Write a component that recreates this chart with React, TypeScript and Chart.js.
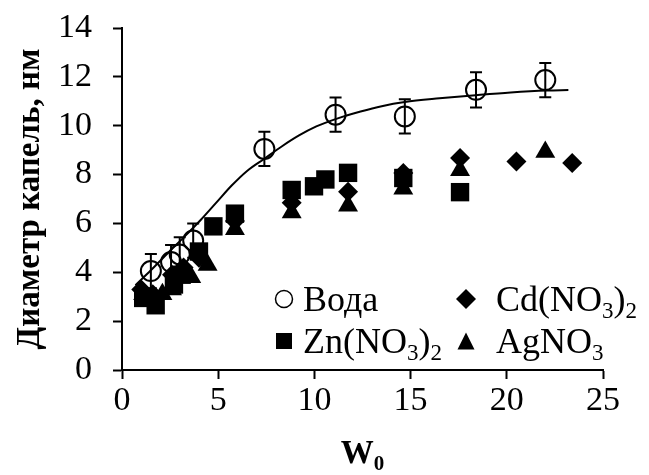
import React, { useEffect, useRef } from 'react';
import { Chart, registerables } from 'chart.js';

Chart.register(...registerables);

// ---------- data ----------
const xTicks = [0, 5, 10, 15, 20, 25];
const yTicks = [0, 2, 4, 6, 8, 10, 12, 14];

const waterX = [1.5, 2.55, 3.0, 3.7, 7.4, 11.1, 14.7, 18.4, 22.0];
const waterY = [4.05, 4.42, 4.73, 5.3, 9.05, 10.45, 10.38, 11.47, 11.87];
const waterErr = [0.7, 0.7, 0.7, 0.7, 0.7, 0.7, 0.7, 0.72, 0.7];

const fitX = [0.7, 1.5, 2.4, 3.3, 4.1, 4.9, 5.7, 6.5, 7.4, 8.3, 9.2, 10.1, 11.1, 12.4, 13.5, 14.7, 16.5, 18.4, 20.2, 22.1, 23.2];
const fitY = [3.47, 4.08, 4.8, 5.5, 6.15, 6.85, 7.55, 8.15, 8.65, 9.15, 9.6, 9.97, 10.27, 10.58, 10.8, 10.97, 11.12, 11.25, 11.36, 11.44, 11.46];

const znX = [1.1, 1.75, 2.7, 3.1, 4.0, 4.75, 5.87, 8.82, 9.98, 10.57, 11.75, 14.62, 17.57];
const znY = [2.95, 2.65, 3.5, 3.9, 4.85, 5.88, 6.4, 7.37, 7.52, 7.8, 8.07, 7.86, 7.28];

const cdX = [1.0, 1.6, 2.6, 3.2, 4.0, 5.87, 8.82, 11.75, 14.62, 17.57, 20.5, 23.4];
const cdY = [3.3, 3.1, 3.9, 4.2, 4.6, 6.1, 6.85, 7.3, 8.06, 8.68, 8.54, 8.47];

const agX = [1.1, 2.1, 2.6, 3.0, 3.6, 4.45, 5.87, 8.82, 11.75, 14.62, 17.57, 22.0];
const agY = [3.1, 3.1, 3.3, 4.0, 3.8, 4.3, 5.76, 6.45, 6.72, 7.42, 8.18, 8.92];

type Part = { t: string; sub?: boolean };
const legendWater: Part[] = [{ t: 'Вода' }];
const legendCd: Part[] = [{ t: 'Cd(NO' }, { t: '3', sub: true }, { t: ')' }, { t: '2', sub: true }];
const legendZn: Part[] = [{ t: 'Zn(NO' }, { t: '3', sub: true }, { t: ')' }, { t: '2', sub: true }];
const legendAg: Part[] = [{ t: 'AgNO' }, { t: '3', sub: true }];
const xTitle: Part[] = [{ t: 'W' }, { t: '0', sub: true }];
const yTitle = 'Диаметр капель, нм';

// ---------- helpers ----------
const FONT = "'Liberation Serif', 'Times New Roman', serif";
const TICK_SIZE = 34;
const LEGEND_SIZE = 36;
const TITLE_SIZE = 33;

function pts(xs: number[], ys: number[]) {
  return xs.map((x, i) => ({ x, y: ys[i] }));
}

function drawParts(ctx: CanvasRenderingContext2D, parts: Part[], x: number, y: number, size: number, bold: boolean, align: 'left' | 'center') {
  const w = bold ? 'bold ' : '';
  const subSize = Math.round(size * 0.65);
  let total = 0;
  for (const p of parts) {
    ctx.font = `${w}${p.sub ? subSize : size}px ${FONT}`;
    total += ctx.measureText(p.t).width;
  }
  let cx = align === 'center' ? x - total / 2 : x;
  ctx.textAlign = 'left';
  ctx.textBaseline = 'alphabetic';
  for (const p of parts) {
    ctx.font = `${w}${p.sub ? subSize : size}px ${FONT}`;
    ctx.fillText(p.t, cx, p.sub ? y + size * 0.2 : y);
    cx += ctx.measureText(p.t).width;
  }
}

function drawMarker(ctx: CanvasRenderingContext2D, kind: string, x: number, y: number, s: number) {
  ctx.save();
  ctx.fillStyle = '#000';
  ctx.strokeStyle = '#000';
  ctx.lineWidth = 1.5;
  ctx.beginPath();
  if (kind === 'circle') {
    ctx.arc(x, y, s * 0.5, 0, Math.PI * 2);
    ctx.stroke();
  } else if (kind === 'rect') {
    ctx.rect(x - s / 2, y - s / 2, s, s);
    ctx.fill();
  } else if (kind === 'diamond') {
    ctx.moveTo(x, y - s / 2);
    ctx.lineTo(x + s / 2, y);
    ctx.lineTo(x, y + s / 2);
    ctx.lineTo(x - s / 2, y);
    ctx.closePath();
    ctx.fill();
  } else if (kind === 'triangle') {
    ctx.moveTo(x, y - s / 2);
    ctx.lineTo(x + s / 2, y + s / 2);
    ctx.lineTo(x - s / 2, y + s / 2);
    ctx.closePath();
    ctx.fill();
  }
  ctx.restore();
}

const errorBarPlugin = {
  id: 'errorBars',
  beforeDatasetsDraw(chart: any) {
    const { ctx, scales } = chart;
    ctx.save();
    ctx.strokeStyle = '#000';
    ctx.lineWidth = 2;
    waterX.forEach((xv, i) => {
      const px = scales.x.getPixelForValue(xv);
      const top = scales.y.getPixelForValue(waterY[i] + waterErr[i]);
      const bot = scales.y.getPixelForValue(waterY[i] - waterErr[i]);
      ctx.beginPath();
      ctx.moveTo(px, top);
      ctx.lineTo(px, bot);
      ctx.moveTo(px - 6, top);
      ctx.lineTo(px + 6, top);
      ctx.moveTo(px - 6, bot);
      ctx.lineTo(px + 6, bot);
      ctx.stroke();
    });
    ctx.restore();
  },
};

const annotationPlugin = {
  id: 'customText',
  afterDraw(chart: any) {
    const { ctx, chartArea } = chart;
    ctx.save();
    ctx.fillStyle = '#000';
    // legend
    const r1 = 299;
    const r2 = 341;
    const c1 = 284;
    const c2 = 466;
    drawMarker(ctx, 'circle', c1, r1, 17);
    drawMarker(ctx, 'diamond', c2, r1, 20);
    drawMarker(ctx, 'rect', c1, r2, 16);
    drawMarker(ctx, 'triangle', c2, r2, 17);
    ctx.fillStyle = '#000';
    drawParts(ctx, legendWater, c1 + 19, r1 + 12, LEGEND_SIZE, false, 'left');
    drawParts(ctx, legendCd, c2 + 30, r1 + 12, LEGEND_SIZE, false, 'left');
    drawParts(ctx, legendZn, c1 + 19, r2 + 12, LEGEND_SIZE, false, 'left');
    drawParts(ctx, legendAg, c2 + 30, r2 + 12, LEGEND_SIZE, false, 'left');
    // x title
    const cx = (chartArea.left + chartArea.right) / 2;
    drawParts(ctx, xTitle, cx, 463, TITLE_SIZE, true, 'center');
    // y title
    ctx.translate(30, (chartArea.top + chartArea.bottom) / 2);
    ctx.rotate(-Math.PI / 2);
    ctx.font = `bold ${TITLE_SIZE}px ${FONT}`;
    ctx.textAlign = 'center';
    ctx.textBaseline = 'middle';
    ctx.fillText(yTitle, 0, 0);
    ctx.restore();
  },
};

export default function App() {
  const ref = useRef<HTMLCanvasElement | null>(null);

  useEffect(() => {
    if (!ref.current) return;
    const chart = new Chart(ref.current, {
      type: 'scatter',
      data: {
        datasets: [
          {
            label: 'Вода',
            data: pts(waterX, waterY),
            pointStyle: 'circle',
            pointRadius: 10,
            pointHoverRadius: 10,
            pointBorderWidth: 2,
            borderColor: '#000',
            backgroundColor: 'rgba(0,0,0,0)',
            showLine: false,
          },
          {
            label: 'fit',
            type: 'line',
            data: pts(fitX, fitY),
            pointRadius: 0,
            borderColor: '#000',
            borderWidth: 2,
            cubicInterpolationMode: 'monotone',
            fill: false,
          },
          {
            label: 'Zn(NO3)2',
            data: pts(znX, znY),
            pointStyle: 'rect',
            pointRadius: 13,
            pointHoverRadius: 13,
            borderWidth: 0,
            borderColor: '#000',
            backgroundColor: '#000',
          },
          {
            label: 'Cd(NO3)2',
            data: pts(cdX, cdY),
            pointStyle: 'rectRot',
            pointRadius: 10,
            pointHoverRadius: 10,
            borderWidth: 0,
            borderColor: '#000',
            backgroundColor: '#000',
          },
          {
            label: 'AgNO3',
            data: pts(agX, agY),
            pointStyle: 'triangle',
            pointRadius: 11.5,
            pointHoverRadius: 11.5,
            borderWidth: 0,
            borderColor: '#000',
            backgroundColor: '#000',
          },
        ],
      },
      options: {
        responsive: false,
        animation: false,
        events: [],
        layout: { padding: { left: 0, right: 46, top: 28, bottom: 0 } },
        plugins: {
          legend: { display: false },
          tooltip: { enabled: false },
          title: { display: false },
        },
        scales: {
          x: {
            type: 'linear',
            min: 0,
            max: 25,
            afterFit: (s: any) => {
              s.height = 105;
              s.paddingLeft = 0;
              s.paddingRight = 0;
            },
            afterBuildTicks: (s: any) => {
              s.ticks = xTicks.map((v) => ({ value: v }));
            },
            border: { display: true, color: '#000', width: 2 },
            grid: { display: true, drawOnChartArea: false, drawTicks: true, tickLength: 9, color: '#000', tickWidth: 2 },
            ticks: { color: '#000', font: { family: FONT, size: TICK_SIZE }, padding: 2, maxRotation: 0 },
          },
          y: {
            type: 'linear',
            min: 0,
            max: 14,
            afterFit: (s: any) => {
              s.width = 122;
              s.paddingTop = 0;
              s.paddingBottom = 0;
            },
            afterBuildTicks: (s: any) => {
              s.ticks = yTicks.map((v) => ({ value: v }));
            },
            border: { display: true, color: '#000', width: 2 },
            grid: { display: true, drawOnChartArea: false, drawTicks: true, tickLength: 9, color: '#000', tickWidth: 2 },
            ticks: { color: '#000', font: { family: FONT, size: TICK_SIZE }, padding: 21 },
          },
        },
      },
      plugins: [errorBarPlugin, annotationPlugin],
    } as any);
    return () => chart.destroy();
  }, []);

  return (
    <div style={{ position: 'fixed', left: 0, top: 0, width: 649, height: 475, background: '#fff' }}>
      <canvas ref={ref} width={649} height={475} style={{ width: 649, height: 475 }} />
    </div>
  );
}
